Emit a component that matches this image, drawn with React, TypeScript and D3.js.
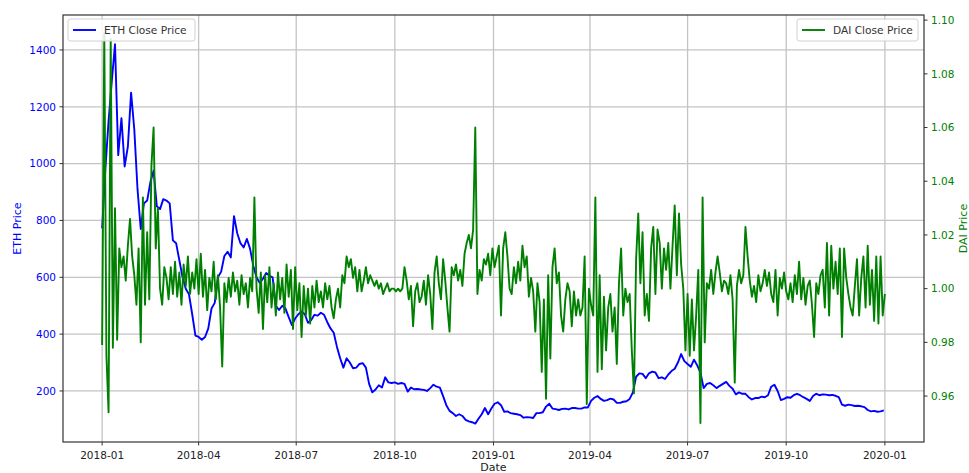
import React, { useEffect, useRef } from 'react';
import * as d3 from 'd3';

// series start date and sampling step (days) for each series
const START_DATE = '2018-01-01';
const ETH_STEP_DAYS = 3;
const DAI_STEP_DAYS = 2;

// ETH close price, every 3 days from 2018-01-01
const ethClose = [
  772, 980, 1150, 1290, 1420, 1030, 1160, 990, 1060, 1250,
  1120, 910, 770, 860, 870, 935, 975, 850, 840, 875,
  870, 860, 730, 720, 660, 600, 560, 540, 470, 395,
  390, 380, 390, 420, 490, 510, 600, 620, 675, 690,
  670, 815, 755, 720, 705, 735, 700, 640, 600, 580,
  595, 615, 605, 600, 500, 485, 500, 490, 460, 432,
  455, 470, 480, 470, 440, 450, 468, 465, 475, 468,
  442, 420, 405, 355, 315, 282, 315, 300, 280, 282,
  295, 298, 282, 225, 195, 205, 220, 212, 248, 230,
  228, 230, 225, 228, 225, 198, 212, 206, 207, 205,
  204, 200, 210, 222, 215, 212, 182, 150, 130, 122,
  112, 118, 112, 98, 93, 90, 85, 102, 118, 140,
  118, 138, 155, 160, 150, 127, 128, 122, 120, 118,
  115, 106, 108, 107, 105, 122, 122, 125, 145, 155,
  138, 136, 133, 137, 138, 135, 140, 140, 138, 138,
  142, 142, 165, 176, 182, 172, 165, 168, 173, 170,
  158, 158, 162, 164, 172, 195, 250, 262, 260, 245,
  262, 268, 265, 245, 248, 242, 258, 270, 278, 300,
  330, 305, 295, 285, 310, 290, 265, 210, 225, 228,
  220, 210, 218, 225, 232, 218, 208, 188, 195, 190,
  190, 178, 170, 175, 175, 180, 178, 185, 215, 222,
  200, 168, 172, 178, 176, 185, 190, 185, 178, 172,
  165, 182, 190, 185, 188, 187, 185, 186, 183, 178,
  152, 148, 152, 150, 147, 148, 146, 143, 133, 128,
  130, 127, 128, 132
];

// DAI close price, every 2 days from 2018-01-01
const daiClose = [
  0.979, 1.095, 0.975, 0.954, 1.093, 0.978, 1.030, 0.981, 1.015, 1.008, 1.012, 1.003, 1.016, 1.026, 1.012,
  1.005, 0.994, 1.015, 0.980, 1.034, 0.994, 1.021, 0.996, 1.046, 1.060, 1.015, 1.030, 1.000, 0.994, 1.008,
  1.004, 0.996, 1.008, 0.998, 1.010, 0.997, 1.006, 0.994, 1.009, 1.001, 1.012, 0.998, 1.006, 1.000, 1.011,
  0.998, 1.013, 0.997, 1.007, 0.992, 1.004, 0.999, 1.010, 0.996, 1.005, 0.993, 0.971, 1.002, 0.995, 1.004,
  0.997, 1.006, 0.999, 1.003, 0.994, 1.005, 0.998, 1.002, 0.993, 1.004, 0.999, 1.034, 1.000, 0.991, 1.006,
  0.985, 1.005, 0.995, 1.008, 0.993, 1.002, 0.990, 1.006, 0.996, 1.004, 0.991, 1.009, 0.997, 1.007, 0.985,
  1.008, 0.992, 1.002, 0.982, 1.001, 0.990, 1.000, 0.987, 1.001, 0.993, 1.003, 0.995, 0.999, 0.993, 1.002,
  0.996, 1.001, 0.993, 0.989, 0.996, 1.000, 0.993, 1.005, 1.002, 1.012, 1.008, 1.011, 1.004, 1.008, 0.999,
  1.007, 0.999, 1.003, 1.008, 1.002, 1.005, 1.003, 1.001, 1.003, 1.000, 1.002, 0.998, 1.000, 1.002, 0.999,
  1.000, 1.000, 0.999, 1.000, 0.999, 1.000, 1.008, 1.003, 0.996, 1.001, 0.986, 0.999, 1.002, 0.995, 0.997,
  1.003, 0.994, 1.005, 0.998, 0.985, 1.006, 1.012, 1.002, 0.996, 1.011, 1.003, 0.993, 0.984, 1.008, 1.005,
  1.009, 1.003, 1.007, 1.001, 1.013, 1.017, 1.020, 1.015, 1.022, 1.060, 0.998, 1.007, 1.003, 1.011, 1.009,
  1.013, 1.005, 1.015, 1.008, 1.012, 1.016, 0.990, 1.015, 1.021, 1.012, 1.000, 0.998, 1.008, 1.002, 1.010,
  1.003, 1.016, 1.008, 1.012, 0.997, 1.004, 0.999, 0.984, 1.002, 0.995, 0.969, 0.996, 0.959, 1.005, 0.974,
  1.008, 1.015, 1.002, 1.006, 0.990, 0.984, 0.996, 1.002, 0.999, 0.986, 0.999, 0.990, 0.996, 0.990, 0.993,
  1.012, 0.957, 1.000, 0.994, 0.990, 1.034, 0.969, 1.005, 0.970, 0.997, 0.977, 0.993, 0.998, 0.984, 0.993,
  0.972, 1.002, 1.015, 0.990, 1.000, 0.995, 0.998, 0.977, 0.961, 1.011, 1.028, 1.002, 1.021, 0.990, 0.998,
  0.988, 1.015, 1.023, 0.998, 1.022, 1.017, 1.000, 1.015, 1.007, 1.017, 1.000, 1.016, 1.031, 1.005, 1.028,
  1.009, 1.000, 0.977, 0.998, 0.975, 0.996, 0.977, 0.990, 1.007, 0.950, 1.034, 0.980, 1.002, 1.000, 1.007,
  0.998, 1.006, 1.012, 1.006, 0.999, 1.003, 1.002, 0.998, 1.005, 0.996, 0.965, 1.001, 1.007, 1.002, 1.005,
  1.023, 1.012, 1.003, 0.997, 1.001, 0.995, 1.005, 0.999, 1.002, 1.007, 1.001, 1.006, 0.998, 0.995, 1.007,
  0.990, 1.004, 1.000, 1.006, 0.999, 0.996, 1.002, 0.995, 1.005, 0.998, 1.010, 0.996, 1.004, 0.994, 1.001,
  1.003, 0.994, 0.982, 1.002, 0.998, 1.005, 1.007, 0.993, 1.017, 0.990, 1.016, 1.000, 1.010, 0.998, 1.015,
  0.982, 1.015, 1.004, 0.998, 0.993, 0.990, 1.001, 1.011, 0.990, 1.004, 1.012, 0.993, 1.016, 0.994, 1.007,
  0.988, 1.012, 0.987, 1.012, 0.990, 0.998
];

const xTickLabels = ['2018-01', '2018-04', '2018-07', '2018-10', '2019-01', '2019-04', '2019-07', '2019-10', '2020-01'];
const ethTicks = [200, 400, 600, 800, 1000, 1200, 1400];
const daiTicks = [0.96, 0.98, 1.0, 1.02, 1.04, 1.06, 1.08, 1.1];

// axis limits
const ethLimits: [number, number] = [20.4, 1523];
const daiLimits: [number, number] = [0.9429, 1.1019];

const WIDTH = 969;
const HEIGHT = 473;
const FONT = '"DejaVu Sans", sans-serif';

const App: React.FC = () => {
  const svgRef = useRef<SVGSVGElement>(null);

  useEffect(() => {
    if (!svgRef.current) return;
    const margin = { top: 15, right: 45, bottom: 31, left: 63 };
    const innerW = WIDTH - margin.left - margin.right;
    const innerH = HEIGHT - margin.top - margin.bottom;

    const svg = d3.select(svgRef.current);
    svg.selectAll('*').remove();

    const start = d3.utcParse('%Y-%m-%d')(START_DATE) as Date;
    const ethData = ethClose.map((v, i) => ({ date: d3.utcDay.offset(start, i * ETH_STEP_DAYS), value: v }));
    const daiData = daiClose.map((v, i) => ({ date: d3.utcDay.offset(start, i * DAI_STEP_DAYS), value: v }));

    // matplotlib-like 5% padding on the date axis
    const allDates = [...ethData, ...daiData].map(d => d.date.getTime());
    const t0 = d3.min(allDates) as number;
    const t1 = d3.max(allDates) as number;
    const pad = (t1 - t0) * 0.05;

    const x = d3.scaleUtc().domain([new Date(t0 - pad), new Date(t1 + pad)]).range([0, innerW]);
    const yEth = d3.scaleLinear().domain(ethLimits).range([innerH, 0]);
    const yDai = d3.scaleLinear().domain(daiLimits).range([innerH, 0]);

    const parseMonth = d3.utcParse('%Y-%m');
    const xTicks = xTickLabels.map(s => parseMonth(s) as Date);

    svg.append('rect').attr('width', WIDTH).attr('height', HEIGHT).attr('fill', '#fff');

    const g = svg.append('g').attr('transform', `translate(${margin.left},${margin.top})`);

    // grid
    g.append('g')
      .selectAll('line')
      .data(xTicks)
      .enter()
      .append('line')
      .attr('x1', d => x(d))
      .attr('x2', d => x(d))
      .attr('y1', 0)
      .attr('y2', innerH)
      .attr('stroke', '#c4c4c4')
      .attr('stroke-width', 1.3);

    g.append('g')
      .selectAll('line')
      .data(ethTicks)
      .enter()
      .append('line')
      .attr('x1', 0)
      .attr('x2', innerW)
      .attr('y1', d => yEth(d))
      .attr('y2', d => yEth(d))
      .attr('stroke', '#c4c4c4')
      .attr('stroke-width', 1.3);

    svg.append('defs')
      .append('clipPath')
      .attr('id', 'plot-clip')
      .append('rect')
      .attr('width', innerW)
      .attr('height', innerH);

    const lines = g.append('g').attr('clip-path', 'url(#plot-clip)');

    const ethLine = d3.line<{ date: Date; value: number }>()
      .x(d => x(d.date))
      .y(d => yEth(d.value));
    const daiLine = d3.line<{ date: Date; value: number }>()
      .x(d => x(d.date))
      .y(d => yDai(d.value));

    lines.append('path')
      .datum(ethData)
      .attr('d', ethLine)
      .attr('fill', 'none')
      .attr('stroke', '#0000ff')
      .attr('stroke-width', 1.9)
      .attr('stroke-linejoin', 'round');

    lines.append('path')
      .datum(daiData)
      .attr('d', daiLine)
      .attr('fill', 'none')
      .attr('stroke', '#008000')
      .attr('stroke-width', 1.9)
      .attr('stroke-linejoin', 'round');

    // frame
    g.append('rect')
      .attr('width', innerW)
      .attr('height', innerH)
      .attr('fill', 'none')
      .attr('stroke', '#333')
      .attr('stroke-width', 1.2);

    // x axis
    const xAxis = g.append('g').attr('transform', `translate(0,${innerH})`);
    xTicks.forEach((t, i) => {
      xAxis.append('line')
        .attr('x1', x(t)).attr('x2', x(t))
        .attr('y1', 0).attr('y2', 3.5)
        .attr('stroke', '#333');
      xAxis.append('text')
        .attr('x', x(t))
        .attr('y', 17)
        .attr('text-anchor', 'middle')
        .style('font-family', FONT)
        .style('font-size', '10.5px')
        .attr('fill', '#222')
        .text(xTickLabels[i]);
    });

    // left axis
    ethTicks.forEach(v => {
      g.append('line')
        .attr('x1', -3.5).attr('x2', 0)
        .attr('y1', yEth(v)).attr('y2', yEth(v))
        .attr('stroke', '#333');
      g.append('text')
        .attr('x', -7)
        .attr('y', yEth(v))
        .attr('dy', '0.36em')
        .attr('text-anchor', 'end')
        .style('font-family', FONT)
        .style('font-size', '10.5px')
        .attr('fill', '#0000ff')
        .text(String(v));
    });

    // right axis
    daiTicks.forEach(v => {
      g.append('line')
        .attr('x1', innerW).attr('x2', innerW + 3.5)
        .attr('y1', yDai(v)).attr('y2', yDai(v))
        .attr('stroke', '#333');
      g.append('text')
        .attr('x', innerW + 7)
        .attr('y', yDai(v))
        .attr('dy', '0.36em')
        .style('font-family', FONT)
        .style('font-size', '10.5px')
        .attr('fill', '#008000')
        .text(v.toFixed(2));
    });

    // axis titles
    svg.append('text')
      .attr('transform', `translate(21,${margin.top + innerH / 2}) rotate(-90)`)
      .attr('text-anchor', 'middle')
      .style('font-family', FONT)
      .style('font-size', '11px')
      .attr('fill', '#0000ff')
      .text('ETH Price');

    svg.append('text')
      .attr('transform', `translate(966.5,${margin.top + innerH / 2}) rotate(-90)`)
      .attr('text-anchor', 'middle')
      .style('font-family', FONT)
      .style('font-size', '11px')
      .attr('fill', '#008000')
      .text('DAI Price');

    svg.append('text')
      .attr('x', margin.left + innerW / 2)
      .attr('y', 471)
      .attr('text-anchor', 'middle')
      .style('font-family', FONT)
      .style('font-size', '11px')
      .attr('fill', '#222')
      .text('Date');

    // legends
    const legend = (x0: number, w: number, color: string, label: string) => {
      const lg = svg.append('g').attr('transform', `translate(${x0},19)`);
      lg.append('rect')
        .attr('width', w).attr('height', 22).attr('rx', 2.5)
        .attr('fill', 'rgba(255,255,255,0.85)')
        .attr('stroke', '#d0d0d0');
      lg.append('line')
        .attr('x1', 5).attr('x2', 28).attr('y1', 11).attr('y2', 11)
        .attr('stroke', color).attr('stroke-width', 1.9);
      lg.append('text')
        .attr('x', 36).attr('y', 11).attr('dy', '0.36em')
        .style('font-family', FONT)
        .style('font-size', '10.6px')
        .attr('fill', '#333')
        .text(label);
    };
    legend(68, 127, '#0000ff', 'ETH Close Price');
    legend(797, 121, '#008000', 'DAI Close Price');
  }, []);

  return (
    <svg
      ref={svgRef}
      width={WIDTH}
      height={HEIGHT}
      style={{ position: 'absolute', left: 0, top: 0, display: 'block' }}
    />
  );
};

export default App;
